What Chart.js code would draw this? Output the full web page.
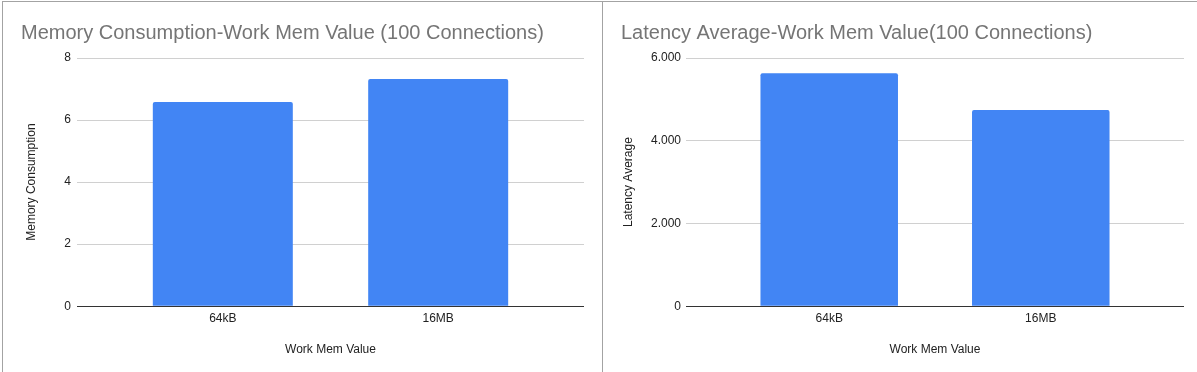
<!DOCTYPE html>
<html>
<head>
<meta charset="utf-8">
<script src="https://cdn.jsdelivr.net/npm/chart.js@4"></script>
<style>
  body { margin: 0; background: #fff; }
  #page { position: relative; width: 1197px; height: 372px; overflow: hidden; }
  .line { position: absolute; background: #a3a3a3; }
  .panel { position: absolute; top: 2px; height: 370px; }
  #memPanel { left: 3px; width: 599px; }
  #latPanel { left: 604px; width: 593px; }
</style>
</head>
<body>
<div id="page">
  <div class="line" style="left:2px;top:1px;width:1195px;height:1px"></div>
  <div class="line" style="left:2px;top:1px;width:1px;height:371px"></div>
  <div class="line" style="left:602px;top:1px;width:1px;height:371px"></div>
  <div class="panel" id="memPanel"><canvas id="memChart"></canvas></div>
  <div class="panel" id="latPanel"><canvas id="latChart"></canvas></div>
</div>
<script>
// data
const categories = ['64kB', '16MB'];
const memoryValues = [6.58, 7.32];
const latencyValues = [5630, 4740];
const memoryTicks = [0, 2, 4, 6, 8];
const latencyTicks = [0, 2000, 4000, 6000];

const FONT = '"Liberation Sans", Arial, Helvetica, sans-serif';
const BAR_BLUE = '#4285f4';

// thousands with a dot, like the sheet shows ("6.000")
function dotThousands(v) {
    return String(v).replace(/\B(?=(\d{3})+(?!\d))/g, '.');
}

function makeChart(canvasId, cfg) {
    let points = cfg.values.map((v, i) => ({ x: i, y: v }));
    let yTicks = cfg.ticks;

    return new Chart(document.getElementById(canvasId), {
        type: 'bar',
        data: {
            datasets: [{
                label: cfg.yTitle,
                data: points,
                backgroundColor: BAR_BLUE,
                borderRadius: { topLeft: 2, topRight: 2 },
                borderSkipped: 'start',
                barPercentage: 0.65,
                categoryPercentage: 1,
            }],
        },
        options: {
            responsive: true,
            maintainAspectRatio: false,
            animation: false,
            layout: {
                padding: { left: cfg.padLeft, right: cfg.padRight, top: 0, bottom: 11 },
            },
            plugins: {
                legend: { display: false },
                tooltip: { enabled: false },
                title: {
                    display: true,
                    text: cfg.title,
                    align: 'start',
                    color: '#757575',
                    font: { family: FONT, size: 20, weight: 'normal', lineHeight: 1.2 },
                    padding: { top: 19, bottom: 13 },
                },
            },
            scales: {
                x: {
                    type: 'linear',
                    offset: false,
                    min: -0.677,
                    max: 1.677,
                    afterBuildTicks: (s) => { s.ticks = categories.map((c, i) => ({ value: i })); },
                    grid: { display: false, drawTicks: false },
                    border: { display: false },
                    ticks: {
                        autoSkip: false,
                        maxRotation: 0,
                        padding: 5,
                        color: '#222',
                        font: { family: FONT, size: 12 },
                        callback: (v) => categories[v],
                    },
                    title: {
                        display: true,
                        text: 'Work Mem Value',
                        color: '#222',
                        font: { family: FONT, size: 12 },
                        padding: { top: 12, bottom: 4 },
                    },
                },
                y: {
                    min: 0,
                    max: yTicks[yTicks.length - 1],
                    afterFit: (s) => { s.width = cfg.axisWidth; },
                    afterBuildTicks: (s) => { s.ticks = yTicks.map((v) => ({ value: v })); },
                    grid: {
                        drawTicks: false,
                        color: (ctx) => (ctx.tick && ctx.tick.value === 0 ? '#333' : '#d0d0d0'),
                    },
                    border: { display: false },
                    ticks: {
                        padding: cfg.tickPad,
                        color: '#222',
                        font: { family: FONT, size: 12 },
                        callback: (v) => dotThousands(v),
                    },
                    title: {
                        display: true,
                        text: cfg.yTitle,
                        color: '#222',
                        font: { family: FONT, size: 12 },
                        padding: { top: cfg.titlePad, bottom: 0 },
                    },
                },
            },
        },
    });
}

makeChart('memChart', {
    values: memoryValues,
    ticks: memoryTicks,
    title: 'Memory Consumption-Work Mem Value (100 Connections)',
    yTitle: 'Memory Consumption',
    padLeft: 18,
    padRight: 18,
    axisWidth: 56,
    tickPad: 6,
    titlePad: 3,
});

makeChart('latChart', {
    values: latencyValues,
    ticks: latencyTicks,
    title: 'Latency Average-Work Mem Value(100 Connections)',
    yTitle: 'Latency Average',
    padLeft: 17,
    padRight: 13,
    axisWidth: 65,
    tickPad: 5,
    titlePad: 0,
});
</script>
</body>
</html>
